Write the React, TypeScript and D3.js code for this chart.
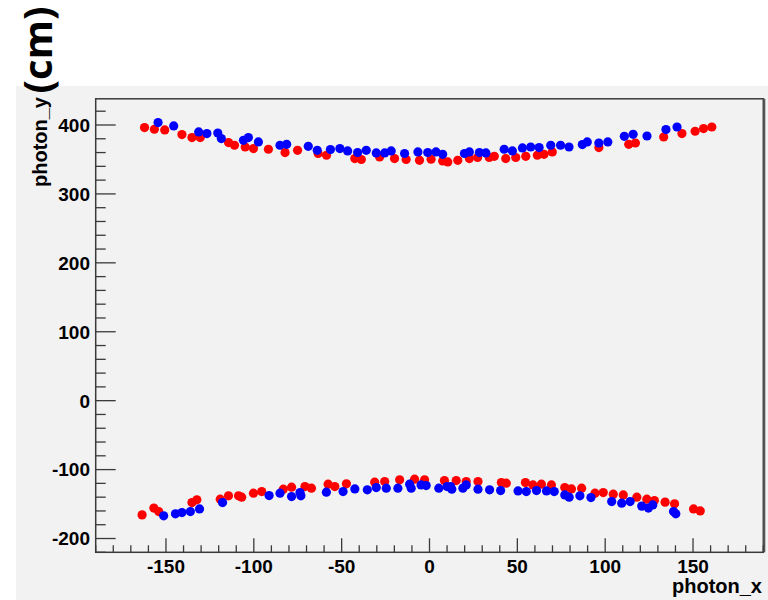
import React from "react";
import * as d3 from "d3";

// Top band (y ≈ 350–400)
const redTopX = [-162.2, -156.6, -150.7, -140.9, -135.2, -130.5, -114.4, -111, -104.9, -100.2, -91.7, -82.2, -75.1, -63.4, -58.6, -42.5, -38.8, -28.4, -19.9, -13.3, -5.7, 0.9, 7.5, 10.4, 16.1, 22.7, 27.4, 34, 36.9, 43.4, 49.1, 54.8, 61.4, 65.2, 69.9, 96.4, 113.4, 117.2, 133.3, 143.7, 151.2, 156, 160.7];
const redTopY = [396.2, 393.8, 392.8, 386.1, 381.7, 381.7, 374.5, 370.6, 368.1, 365.8, 364.8, 360, 363.3, 358.6, 356.1, 351.3, 349.9, 353.6, 351.3, 349.9, 348.8, 350.3, 347.8, 346.4, 348.8, 351.3, 352.8, 352.8, 354.6, 351.3, 352.8, 354.6, 356.1, 357.5, 360.9, 367.2, 372, 373.9, 382.6, 387.5, 390.9, 394.8, 397.1];
const blueTopX = [-154.5, -145.6, -131.4, -126.7, -120.5, -118.5, -105.9, -103.1, -97.4, -85.1, -81.3, -69, -63.9, -56.4, -51, -46.6, -40.9, -36, -30.3, -25.5, -21.8, -14.2, -6.6, -1, 3.7, 7.5, 19.9, 22.7, 28.4, 32.1, 42.5, 47.2, 52.9, 57.6, 62.4, 69, 74.6, 79.4, 87, 89.8, 96.4, 101.5, 110.9, 115.9, 123.8, 134.6, 140.9];
const blueTopY = [403.5, 398.6, 389.9, 387.5, 388.4, 380.3, 377.8, 381.7, 375.4, 370.6, 372, 369.1, 363.3, 364.3, 365.8, 362.3, 360, 363.3, 359.4, 359.4, 362.3, 358.6, 360.9, 360, 360.9, 357.5, 358.6, 360.9, 360, 359.4, 364.8, 362.3, 366.7, 368.1, 367.2, 370.6, 370.6, 368.1, 371.6, 375.4, 373.9, 375.4, 383.6, 386.5, 384, 393.3, 397.1];

// Bottom band (y ≈ -115 – -165)
const redBotX = [-163.6, -156.9, -154.1, -135.2, -132.4, -119.1, -114.4, -108.7, -106.9, -100.2, -95.5, -83.2, -78.5, -70.9, -67.2, -57.7, -53.9, -47.3, -31.2, -25.5, -17, -8.5, -2.8, 8.5, 15.2, 20.9, 27.6, 40.9, 43.7, 54.6, 58.9, 63.7, 69.4, 77, 80.8, 86.6, 94.2, 98.9, 104.6, 110.3, 118, 123.7, 128, 134.1, 139.5, 150.3, 154.1];
const redBotY = [-165.7, -155.9, -160.9, -147.8, -143.9, -142.9, -138.1, -138.1, -140, -134.2, -131.9, -128.4, -125.5, -124.6, -127, -121.2, -124.6, -120.7, -118.3, -117.4, -114.9, -113.9, -114.9, -115.9, -115.9, -117.4, -117.4, -118.8, -119.7, -118.8, -122.2, -121.2, -122.2, -126.1, -128, -127, -134.2, -133.3, -135.7, -136.7, -140, -142.9, -144.9, -147.2, -149.7, -157, -159.9];
const blueBotX = [-151.3, -144.6, -140.9, -136.1, -130.9, -117.8, -91.3, -85.1, -78.5, -73.7, -73.2, -58.7, -49.2, -42.5, -35.4, -30.3, -24.6, -18, -11.3, -10.4, -4.8, -1.9, 5.3, 10, 12, 12.7, 19, 20.9, 27.6, 34.2, 40.5, 50.4, 55.1, 60.9, 66.6, 71, 77, 79.5, 85.6, 91.9, 103.7, 109.4, 114.2, 120.8, 124.6, 127.1, 138.9, 140.2];
const blueBotY = [-167.1, -164.2, -162.3, -160.9, -157, -147.8, -137.7, -134.2, -139.1, -133.3, -138.1, -132.8, -131.9, -128, -129.4, -126.1, -127, -127, -121.2, -127, -122.2, -123.2, -127, -124.6, -124.6, -128.4, -127, -122.2, -128.4, -129.4, -130.4, -130.9, -131.9, -130.4, -130.9, -131.9, -136.7, -140, -138.1, -140.6, -146.4, -148.7, -146.4, -153, -155.9, -151.2, -160.9, -164.2];

const xMajorTicks = [-150, -100, -50, 0, 50, 100, 150];
const yMajorTicks = [-200, -100, 0, 100, 200, 300, 400];

const W = 768;
const H = 600;
const FL = 95.7, FR = 763.3, FT = 98.8, FB = 552.3;

export default function App() {
  const x = d3.scaleLinear().domain([-190, 190]).range([FL, FR]);
  const y = d3.scaleLinear().domain([-220, 438]).range([FB, FT]);

  const xMinor = d3.range(-190, 191, 10).filter((v) => v % 50 !== 0);
  const yMinor = d3.range(-220, 438, 20).filter((v) => v % 100 !== 0);

  const series = [
    { xs: redTopX, ys: redTopY, c: "#ff0000" },
    { xs: redBotX, ys: redBotY, c: "#ff0000" },
    { xs: blueTopX, ys: blueTopY, c: "#0000ff" },
    { xs: blueBotX, ys: blueBotY, c: "#0000ff" },
  ];

  const font = "'Liberation Sans', Arial, sans-serif";
  const axisColor = "#3a3a3a";

  return (
    <svg
      width={W}
      height={H}
      style={{ position: "absolute", left: 0, top: 0, display: "block" }}
    >
      <rect x={0} y={0} width={W} height={H} fill="#ffffff" />
      <rect x={16} y={86} width={W - 16} height={H - 86} fill="#f2f2f2" />

      <text
        transform={`translate(52,50) rotate(-90)`}
        textAnchor="middle"
        fontFamily="'Open Sans', 'Noto Sans', sans-serif"
        fontWeight="bold"
        fontSize={40}
        fill="#000"
      >
        (cm)
      </text>

      {/* points */}
      {series.map((s, si) => (
        <g key={si} fill={s.c}>
          {s.xs.map((xv, i) => (
            <circle key={i} cx={x(xv)} cy={y(s.ys[i])} r={4.6} />
          ))}
        </g>
      ))}

      {/* frame */}
      <rect
        x={FL}
        y={FT}
        width={FR - FL}
        height={FB - FT}
        fill="none"
        stroke={axisColor}
        strokeWidth={1.5}
      />
      <line x1={FR + 1} x2={FR + 1} y1={FT} y2={FB} stroke="#555" strokeWidth={2} />

      {/* y ticks */}
      {yMajorTicks.map((v) => (
        <line key={"ym" + v} x1={FL} x2={FL + 20} y1={y(v)} y2={y(v)} stroke={axisColor} strokeWidth={1.3} />
      ))}
      {yMinor.map((v) => (
        <line key={"yn" + v} x1={FL} x2={FL + 10} y1={y(v)} y2={y(v)} stroke={axisColor} strokeWidth={1.3} />
      ))}
      {yMajorTicks.map((v) => (
        <text
          key={"yl" + v}
          x={90}
          y={y(v)}
          dy="0.36em"
          textAnchor="end"
          fontFamily={font}
          fontWeight="bold"
          fontSize={19}
          fill="#000"
        >
          {v}
        </text>
      ))}

      {/* x ticks */}
      {xMajorTicks.map((v) => (
        <line key={"xm" + v} x1={x(v)} x2={x(v)} y1={FB} y2={FB - 14} stroke={axisColor} strokeWidth={1.3} />
      ))}
      {xMinor.map((v) => (
        <line key={"xn" + v} x1={x(v)} x2={x(v)} y1={FB} y2={FB - 7} stroke={axisColor} strokeWidth={1.3} />
      ))}
      {xMajorTicks.map((v) => (
        <text
          key={"xl" + v}
          x={x(v)}
          y={573}
          textAnchor="middle"
          fontFamily={font}
          fontWeight="bold"
          fontSize={19}
          fill="#000"
        >
          {v}
        </text>
      ))}

      <text
        x={762}
        y={593}
        textAnchor="end"
        fontFamily={font}
        fontWeight="bold"
        fontSize={20}
        fill="#000"
      >
        photon_x
      </text>
      <text
        transform={`translate(47,97) rotate(-90)`}
        textAnchor="end"
        fontFamily={font}
        fontWeight="bold"
        fontSize={20}
        fill="#000"
      >
        photon_y
      </text>
    </svg>
  );
}
